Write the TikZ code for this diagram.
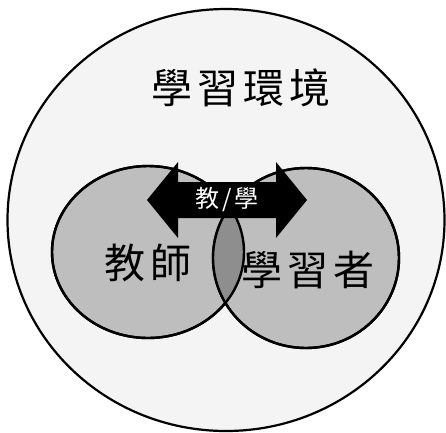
\documentclass[tikz,border=0pt]{standalone}
\usepackage{fontspec}
\usepackage{xcolor}
\usepackage{tikz}
\usetikzlibrary{arrows.meta, positioning, shapes.geometric, calc}
\newfontfamily\cjk[LetterSpace=12]{Noto Sans CJK TC}
\definecolor{venngray}{HTML}{BEBEBE}
\definecolor{lensgray}{HTML}{8E8E8E}
\definecolor{envgray}{HTML}{F4F4F4}

\begin{document}
\begin{tikzpicture}[x=1pt, y=-1pt,
    circ/.style={draw=black, line width=2.4pt, ellipse, inner sep=0pt},
    bigtext/.style={font=\cjk\fontsize{41}{41}\selectfont}]
    \useasboundingbox (0,0) rectangle (446,432);

    % Environment
    \node[circ, line width=2.2pt, fill=envgray, minimum width=437pt, minimum height=422pt] (env) at (226,220) {};

    % Teacher and learner
    \node[circ, fill=venngray, minimum width=192pt, minimum height=172pt] (teacher) at (148,252) {};
    \node[circ, fill=venngray, minimum width=186pt, minimum height=180pt] (learner) at (306,258) {};
    \begin{scope}
        \clip (148,252) ellipse [x radius=96pt, y radius=86pt];
        \fill[lensgray] (306,258) ellipse [x radius=93pt, y radius=90pt];
    \end{scope}
    \draw[line width=2.4pt] (teacher.center) ellipse [x radius=96pt, y radius=86pt];
    \draw[line width=2.4pt] (learner.center) ellipse [x radius=93pt, y radius=90pt];

    % Double arrow
    \coordinate (ltip) at (147,200);
    \coordinate (rtip) at (307,200);
    \fill[black] (ltip) -- ++(31,-38) -- ++(0,20) -- ($(rtip)+(-31,-18)$) -- ++(0,-20)
        -- (rtip) -- ++(-31,38) -- ++(0,-20) -- ($(ltip)+(31,18)$) -- ++(0,20) -- cycle;
    \node[font=\cjk\fontsize{24}{24}\selectfont, text=white, inner sep=0pt] (teach) at ($(ltip)!0.5!(rtip)$) {教/學};

    % Labels
    \node[bigtext] (envlabel) at (241,88) {學習環境};
    \node[bigtext] (teacherlabel) at (148,263) {教師};
    \node[bigtext] (learnerlabel) at (308,270) {學習者};
\end{tikzpicture}
\end{document}
